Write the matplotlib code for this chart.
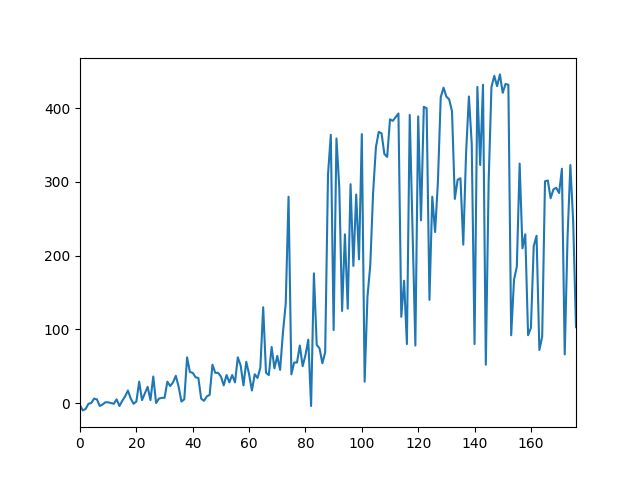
import matplotlib
matplotlib.use("Agg")
import matplotlib.pyplot as plt
import numpy as np

values = [
    -3, -10, -8, -1, 0, 6, 5, -4, -2, 1,
    1, 0, -1, 5, -4, 3, 9, 17, 6, -1,
    2, 29, 4, 13, 22, 4, 36, 0, 6, 7,
    7, 29, 23, 28, 37, 22, 2, 5, 62, 42,
    41, 35, 34, 6, 3, 9, 11, 52, 41, 41,
    36, 24, 38, 28, 38, 28, 62, 51, 24, 56,
    39, 17, 39, 34, 48, 130, 41, 38, 76, 47,
    64, 45, 95, 135, 280, 39, 55, 55, 78, 50,
    65, 86, -4, 176, 79, 74, 54, 69, 310, 364,
    99, 359, 293, 125, 229, 128, 297, 186, 283, 195,
    365, 29, 144, 187, 285, 347, 368, 366, 338, 334,
    385, 383, 388, 393, 117, 166, 80, 391, 235, 78,
    389, 248, 402, 400, 140, 280, 232, 300, 415, 428,
    416, 412, 396, 277, 303, 305, 215, 340, 416, 352,
    80, 429, 323, 432, 52, 300, 429, 444, 430, 446,
    421, 433, 432, 92, 167, 185, 325, 210, 229, 92,
    102, 213, 227, 72, 90, 301, 302, 278, 290, 292,
    285, 318, 66, 225, 323, 246, 103,
]

x = np.arange(len(values))

fig, ax = plt.subplots(figsize=(6.4, 4.8), dpi=100)
ax.plot(x, values, color="#1f77b4")
ax.set_xlim(0, len(values) - 1)
fig.savefig("out.png")
